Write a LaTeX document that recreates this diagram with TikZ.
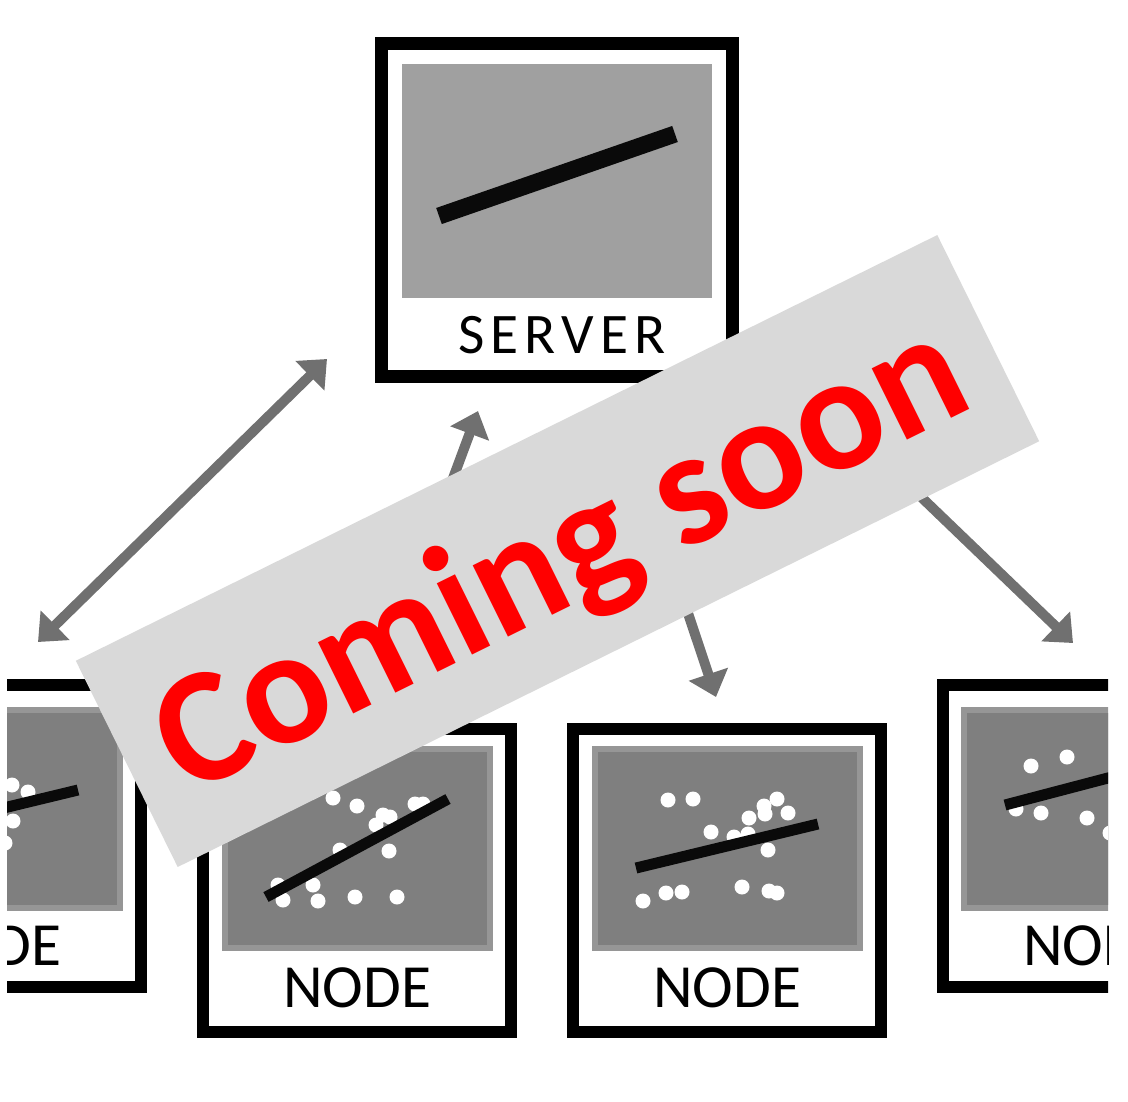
\documentclass[tikz,border=0pt]{standalone}
\usepackage{fontspec}
\setmainfont{Carlito}
\usetikzlibrary{arrows.meta}

\definecolor{servergray}{RGB}{160,160,160}
\definecolor{plotrim}{RGB}{150,150,150}
\definecolor{plotgray}{RGB}{127,127,127}
\definecolor{linkgray}{RGB}{112,112,112}
\definecolor{bannergray}{RGB}{217,217,217}
\definecolor{soonred}{RGB}{255,0,0}

\tikzset{every picture/.style={line width=0.75pt}}
\tikzset{
  boxframe/.style={draw=black, line width=9pt},
  plotbg/.style={fill=plotrim},
  plotfg/.style={fill=plotgray},
  fitline/.style={draw=black!96, line width=8.25pt},
  datadot/.style={fill=white},
  boxlabel/.style={anchor=base, inner sep=0pt, font=\fontsize{46}{52}\selectfont},
  link/.style={draw=linkgray, line width=7.5pt},
  bannerbox/.style={fill=bannergray, rotate=26.3, minimum width=720.75pt, minimum height=172.5pt, inner sep=0pt},
  soontext/.style={rotate=26.3, inner sep=0pt, text=soonred, font=\bfseries\fontsize{123}{140}\selectfont},
}

\begin{document}
\begin{tikzpicture}[x=0.75pt,y=0.75pt,yscale=-1,xscale=1,>={Triangle[length=18pt,width=30pt]}]
    \useasboundingbox (0,0) rectangle (1128,1101);

    \begin{scope}
    \clip (7,0) rectangle (1108,1101);

    %Shape: Rectangle [server]
    \draw[boxframe, line width=9.75pt] (381.5,43.5) rectangle (732.5,376.5);
    \fill[servergray] (402,64) rectangle (712,298);
    \draw[fitline, line width=12.75pt] (439,216) -- (675,134);
    % Text Node
    \node[boxlabel, font=\fontsize{43}{50}\selectfont] (lblserver) at (562,353) {S\kern4.5pt E\kern4.5pt R\kern4.5pt V\kern4.5pt E\kern4.5pt R};

    %Shape: Rectangle [node 1]
    \begin{scope}[shift={(-173,679)}]
    \draw[boxframe] (6,6) rectangle (314,308);
    \fill[plotbg] (24,28) rectangle (296,232);
    \fill[plotfg] (30,34) rectangle (290,226);
    \foreach \x/\y in {185/106,201/113,186/142,178/164,160/120,150/150}
      \fill[datadot] (\x,\y) circle (7.5);
    \draw[fitline] (69,155) -- (251,111);
    % Text Node
    \node[boxlabel] (lblnodea) at (160,286) {NODE};
    \end{scope}

    %Shape: Rectangle [node 2]
    \begin{scope}[shift={(197,723)}]
    \draw[boxframe] (6,6) rectangle (314,309);
    \fill[plotbg] (25,23) rectangle (296,228);
    \fill[plotfg] (31,29) rectangle (290,222);
    \foreach \x/\y in {136/75,160/83,179/102,186/92,193/94,218/81,226/81,192/128,143/127,81/162,86/177,116/162,121/178,158/174,200/174}
      \fill[datadot] (\x,\y) circle (7.5);
    \draw[fitline] (69,174) -- (251,76);
    % Text Node
    \node[boxlabel] (lblnodeb) at (160,284) {NODE};
    \end{scope}

    %Shape: Rectangle [node 3]
    \begin{scope}[shift={(567,723)}]
    \draw[boxframe] (6,6) rectangle (314,309);
    \fill[plotbg] (25,23) rectangle (296,228);
    \fill[plotfg] (31,29) rectangle (290,222);
    \foreach \x/\y in {101/77,126/76,144/109,167/114,181/111,182/95,197/83,198/91,210/76,221/90,201/127,76/178,99/170,115/169,175/164,202/168,210/170}
      \fill[datadot] (\x,\y) circle (7.5);
    \draw[fitline] (69,145) -- (251,101);
    % Text Node
    \node[boxlabel] (lblnodec) at (160,284) {NODE};
    \end{scope}

    %Shape: Rectangle [node 4]
    \begin{scope}[shift={(937,679)}]
    \draw[boxframe] (6,6) rectangle (314,308);
    \fill[plotbg] (24,28) rectangle (296,232);
    \fill[plotfg] (30,34) rectangle (290,226);
    \foreach \x/\y in {94/87,130/78,79/130,104/134,150/139,173/154,200/110,215/150}
      \fill[datadot] (\x,\y) circle (7.5);
    \draw[fitline] (68,126) -- (251,78);
    % Text Node
    \node[boxlabel] (lblnoded) at (160,286) {NODE};
    \end{scope}
    \end{scope}

    %Straight Lines [links]
    \coordinate (lefttip) at (38,642);
    \coordinate (servertipa) at (327,359);
    \coordinate (nodebtop) at (364,718);
    \coordinate (servertipb) at (478,411);
    \coordinate (serverfoot) at (620,410);
    \coordinate (nodectip) at (716,697);
    \coordinate (serverside) at (765,347);
    \coordinate (nodedtip) at (1073,643);
    \draw[link, <->] (lefttip) -- (servertipa);
    \draw[link, ->] (nodebtop) -- (servertipb);
    \draw[link, ->] (serverfoot) -- (nodectip);
    \draw[link, ->] (serverside) -- (nodedtip);

    %Shape: Rectangle [banner]
    \node[bannerbox] (banner) at (557.5,551) {};
    % Text Node
    \node[soontext] (soon) at (563,562) {Coming soon};

\end{tikzpicture}
\end{document}
